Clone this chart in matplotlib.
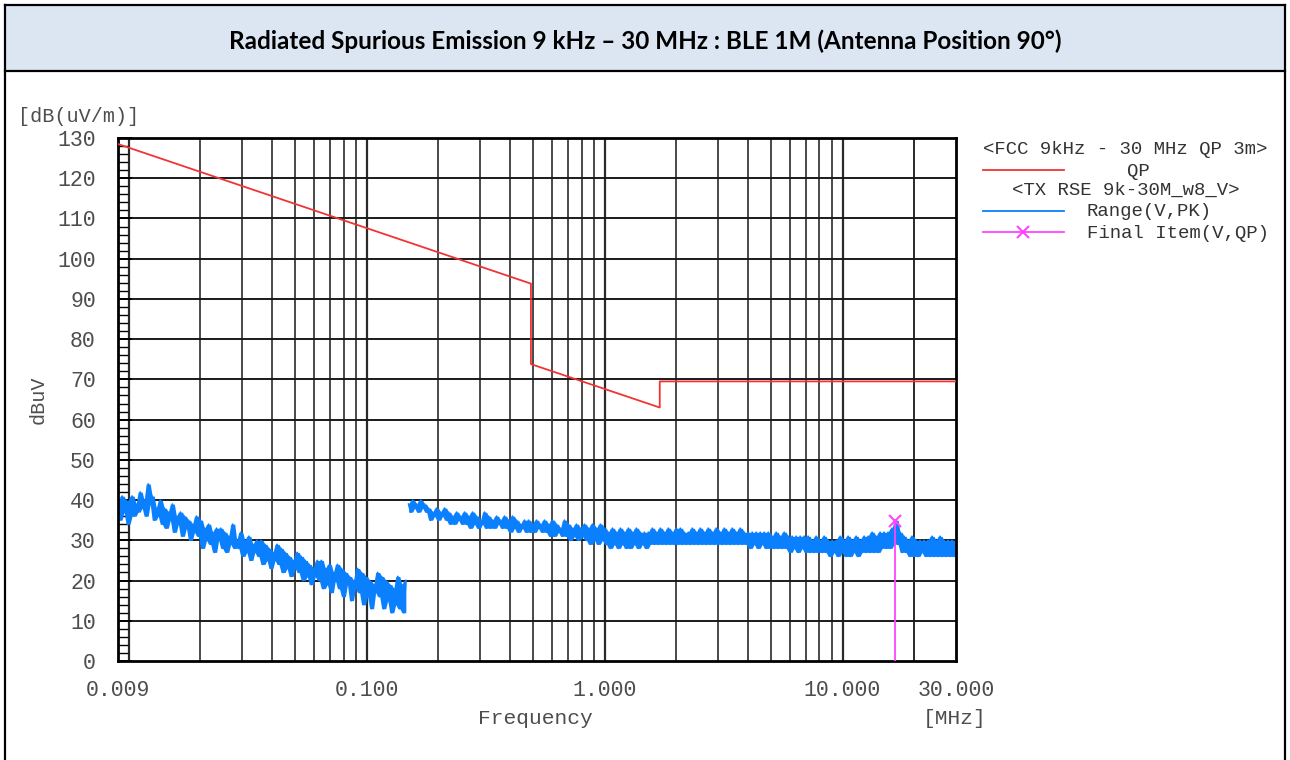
import numpy as np
import matplotlib
matplotlib.use("Agg")
import matplotlib.pyplot as plt
from matplotlib.lines import Line2D
from matplotlib.patches import Rectangle

# ---------------- data ----------------
title = "Radiated Spurious Emission 9 kHz \u2013 30 MHz : BLE 1M (Antenna Position 90\u00b0)"

# FCC limit (QP 3m) breakpoints, MHz / dBuV/m
limit_f = [0.009, 0.490, 0.490, 1.705, 1.705, 30.0]
limit_v = [128.5, 93.8, 73.8, 63.0, 69.5, 69.5]

# Range (V,PK) trace, band 1: 0.009 - 0.150 MHz
band1_start, band1_stop = 0.009, 0.146
band1_v = [39,35,41,37,40,34,38,41,36,39,
           37,42,38,40,36,44,39,41,35,38,
           36,40,34,38,33,37,35,39,32,36,
           34,37,31,36,33,35,30,34,32,36,
           31,35,28,33,30,34,29,32,27,33,
           30,33,28,32,27,31,29,34,28,30,
           28,32,26,30,27,31,25,29,27,30,
           26,30,24,29,25,28,23,27,25,29,
           24,28,22,27,23,26,21,25,23,27,
           22,26,20,25,21,24,19,23,21,25,
           20,25,18,23,19,24,17,22,20,24,
           18,23,16,22,19,21,15,20,18,23,
           17,22,14,21,16,20,13,19,17,22,
           16,21,13,20,15,19,12,18,14,21,13,19,12,20]

# Range (V,PK) trace, band 2: 0.150 - 30 MHz
band2_start, band2_stop = 0.150, 30.0
band2_v = [39,37,40,38,39,37,40,38,39,37,
           38,35,37,36,38,35,37,36,38,35,
           37,34,36,34,37,35,36,34,37,34,
           36,33,37,34,36,33,35,34,37,33,
           36,33,35,33,36,34,35,33,36,33,
           35,32,36,33,35,32,34,33,35,32,
           35,32,34,32,35,33,34,32,35,32,
           34,31,35,31,34,32,33,31,35,31,
           34,30,33,31,34,30,33,31,34,30,
           33,29,34,30,33,29,34,30,33,29,
           32,28,33,29,32,28,33,29,32,28,
           33,28,32,29,33,28,32,29,32,28,
           32,29,33,29,32,29,33,29,32,29,
           33,29,32,29,33,29,33,29,32,29,
           32,29,33,29,32,29,33,29,32,29,
           33,29,32,29,33,29,32,29,33,29,
           32,29,33,29,32,29,33,29,32,29,
           32,28,32,29,32,28,32,29,32,28,
           32,28,31,28,32,28,31,28,32,28,
           31,27,31,28,31,27,31,28,31,27,
           31,27,30,27,31,27,30,27,31,27,
           30,26,30,27,30,26,31,27,30,26,
           31,26,30,27,31,26,30,27,31,27,
           31,27,32,27,31,27,32,28,32,28,
           32,28,33,29,35,29,32,27,31,27,
           30,26,31,26,30,26,30,27,30,26,
           30,26,31,26,30,26,31,26,30,26,
           30,26,30,26,30]

# Final item (V,QP)
final_f = [16.6]
final_v = [34.8]

xticks = [0.009, 0.1, 1.0, 10.0, 30.0]
xtick_labels = ["0.009", "0.100", "1.000", "10.000", "30.000"]
yticks = list(range(0, 131, 10))

# ---------------- figure ----------------
W, H = 1290, 760
fig = plt.figure(figsize=(W / 100, H / 100), dpi=100)

def fx(px):
    return px / W

def fy(py):
    return 1 - py / H

# title box
fig.patches.append(Rectangle((fx(5), fy(71)), fx(1280), 66 / H, transform=fig.transFigure,
                             facecolor="#DCE6F2", edgecolor="none", zorder=0))
for (x0, y0, x1, y1) in [(5, 5, 1285, 5), (5, 5, 5, 760), (1285, 5, 1285, 760), (5, 71, 1285, 71)]:
    fig.add_artist(Line2D([fx(x0), fx(x1)], [fy(y0), fy(y1)], transform=fig.transFigure,
                          color="black", lw=1.6))
fig.text(fx(645), fy(41), title, ha="center", va="center", fontsize=17.5,
         fontweight="bold", family="Lato", color="black")

mono = "Liberation Mono"
tcol = "#4d4d4d"
blue = "#0A80FF"

ax = fig.add_axes([fx(118), fy(661), (956 - 118) / W, (661 - 138) / H])
ax.set_xscale("log")
ax.set_xlim(0.009, 30.0)
ax.set_ylim(0, 130)

# grid
for dec in [0.01, 0.1, 1.0, 10.0]:
    for m in range(1, 10):
        f = dec * m
        if 0.009 < f < 30.0:
            lw = 1.6 if m == 1 else 1.2
            ax.axvline(f, color="#2a2a2a", lw=lw, zorder=1)
ax.axvline(20.0, color="#2a2a2a", lw=1.2, zorder=1)
for yv in yticks[1:-1]:
    ax.axhline(yv, color="#1a1a1a", lw=1.4, zorder=1)

# limit
ax.plot(limit_f, limit_v, color="#F03434", lw=1.3, zorder=3)

# traces (min/max of neighbouring sweep points filled, like a dense analyzer trace)
def draw_band(fstart, fstop, vals, k=1):
    v = np.asarray(vals, dtype=float)
    f = np.geomspace(fstart, fstop, len(v))
    pad = np.pad(v, k, mode="edge")
    win = np.vstack([pad[i:i + len(v)] for i in range(2 * k + 1)])
    ax.fill_between(f, win.min(axis=0), win.max(axis=0), color=blue, lw=0, zorder=2)
    ax.plot(f, v, color=blue, lw=1.3, zorder=2)

draw_band(band1_start, band1_stop, band1_v)
draw_band(band2_start, band2_stop, band2_v)

# final item
for f, v in zip(final_f, final_v):
    ax.plot([f, f], [0, v], color="#FF44FF", lw=1.3, zorder=4)
ax.plot(final_f, final_v, linestyle="none", marker="x", color="#FF44FF",
        markersize=9, mew=1.5, zorder=5)

# axes style
for s in ax.spines.values():
    s.set_color("black")
    s.set_linewidth(2.0)
ax.set_xticks(xticks)
ax.set_xticklabels(xtick_labels)
ax.xaxis.set_minor_locator(matplotlib.ticker.NullLocator())
ax.set_yticks(yticks)
ax.set_yticks(list(range(0, 131, 2)), minor=True)
ax.tick_params(axis="x", which="major", length=0, pad=14, labelsize=15.5, labelcolor=tcol)
ax.tick_params(axis="y", which="major", direction="in", length=10, width=1.4, pad=16,
               labelsize=15.5, labelcolor=tcol)
ax.tick_params(axis="y", which="minor", direction="in", length=7, width=1.0)
for lab in ax.get_xticklabels() + ax.get_yticklabels():
    lab.set_family(mono)

fig.text(fx(18), fy(116), "[dB(uV/m)]", ha="left", va="center", fontsize=14.5,
         family=mono, color=tcol)
fig.text(fx(38), fy(400), "dBuV", ha="center", va="center", rotation=90, fontsize=14.5,
         family=mono, color=tcol)
fig.text(fx(535), fy(719), "Frequency", ha="center", va="center", fontsize=15.3,
         family=mono, color=tcol)
fig.text(fx(955), fy(719), "[MHz]", ha="center", va="center", fontsize=15.3,
         family=mono, color=tcol)

# legend
lfs = 13.7
fig.text(fx(983), fy(149), "<FCC 9kHz - 30 MHz QP 3m>", ha="left", va="center",
         fontsize=lfs, family=mono, color="#333333")
fig.add_artist(Line2D([fx(983), fx(1064)], [fy(170), fy(170)], transform=fig.transFigure,
                      color="#F03434", lw=1.3))
fig.text(fx(1138), fy(171), "QP", ha="center", va="center", fontsize=lfs, family=mono,
         color="#333333")
fig.text(fx(1126), fy(190), "<TX RSE 9k-30M_w8_V>", ha="center", va="center",
         fontsize=lfs, family=mono, color="#333333")
fig.add_artist(Line2D([fx(983), fx(1064)], [fy(211), fy(211)], transform=fig.transFigure,
                      color=blue, lw=1.3))
fig.text(fx(1087), fy(212), "Range(V,PK)", ha="left", va="center", fontsize=lfs,
         family=mono, color="#333333")
fig.add_artist(Line2D([fx(983), fx(1064)], [fy(232), fy(232)], transform=fig.transFigure,
                      color="#FF44FF", lw=1.3))
fig.add_artist(Line2D([fx(1023)], [fy(232)], transform=fig.transFigure, marker="x",
                      color="#FF44FF", markersize=9, mew=1.5, linestyle="none"))
fig.text(fx(1087), fy(233), "Final Item(V,QP)", ha="left", va="center", fontsize=lfs,
         family=mono, color="#333333")

fig.savefig("out.png", dpi=100)
